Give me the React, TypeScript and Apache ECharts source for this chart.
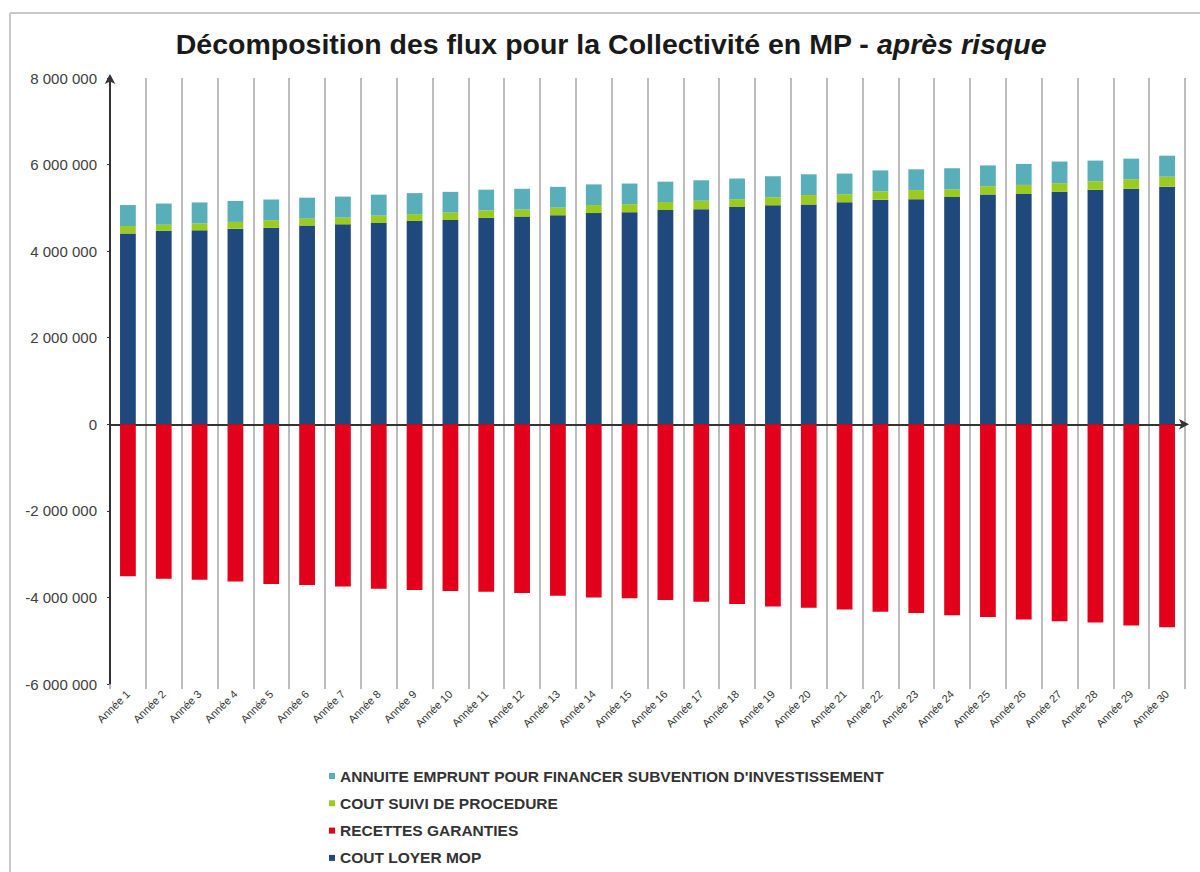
import React, { useEffect, useRef } from "react";
import * as echarts from "echarts";

const years: string[] = Array.from({ length: 30 }, (_, i) => `Année ${i + 1}`);

const coutLoyerMop: number[] = [
  4410000, 4470000, 4480000, 4520000, 4540000, 4590000, 4620000, 4650000, 4700000, 4720000,
  4770000, 4800000, 4830000, 4880000, 4900000, 4950000, 4970000, 5020000, 5060000, 5080000,
  5130000, 5190000, 5200000, 5250000, 5310000, 5320000, 5370000, 5420000, 5440000, 5490000,
];
const coutSuiviProcedure: number[] = [
  170000, 140000, 160000, 155000, 175000, 160000, 155000, 170000, 155000, 170000,
  170000, 160000, 175000, 185000, 185000, 185000, 195000, 180000, 185000, 215000,
  185000, 190000, 210000, 180000, 190000, 210000, 200000, 195000, 220000, 230000,
];
const annuiteEmprunt: number[] = [
  485000, 490000, 485000, 485000, 478000, 485000, 485000, 485000, 485000, 480000,
  480000, 480000, 480000, 477000, 477000, 470000, 472000, 478000, 485000, 480000,
  477000, 485000, 480000, 485000, 480000, 485000, 500000, 477000, 477000, 485000,
];
const recettesGaranties: number[] = [
  -3510000, -3570000, -3590000, -3630000, -3690000, -3710000, -3750000, -3800000, -3830000, -3850000,
  -3870000, -3900000, -3960000, -4000000, -4020000, -4060000, -4100000, -4150000, -4210000, -4240000,
  -4280000, -4330000, -4360000, -4410000, -4450000, -4510000, -4550000, -4580000, -4650000, -4690000,
];

const legendOrder: string[] = [
  "ANNUITE EMPRUNT POUR FINANCER SUBVENTION D'INVESTISSEMENT",
  "COUT SUIVI DE PROCEDURE",
  "RECETTES GARANTIES",
  "COUT LOYER MOP",
];

const FONT = "'Liberation Sans', Arial, sans-serif";

const fmt = (v: number) => {
  const s = Math.abs(v).toFixed(0).replace(/\B(?=(\d{3})+(?!\d))/g, " ");
  return (v < 0 ? "-" : "") + s;
};

export default function App() {
  const ref = useRef<HTMLDivElement>(null);
  useEffect(() => {
    document.body.style.margin = "0";
    const chart = echarts.init(ref.current!, null, { renderer: "svg" });
    const barW = "44%";
    chart.setOption({
      animation: false,
      backgroundColor: "#ffffff",
      graphic: [
        { type: "line", shape: { x1: 10, y1: 13, x2: 10, y2: 872 }, style: { stroke: "#c8c8c8", lineWidth: 2 } },
        { type: "line", shape: { x1: 10, y1: 13, x2: 1200, y2: 13 }, style: { stroke: "#c8c8c8", lineWidth: 2 } },
        {
          type: "text",
          x: 611,
          y: 44,
          style: {
            text: "{b|Décomposition des flux pour la Collectivité en MP - }{i|après risque}",
            align: "center",
            verticalAlign: "middle",
            rich: {
              b: { fontFamily: FONT, fontSize: 28.5, fontWeight: "bold", fill: "#1a1a1a" },
              i: { fontFamily: FONT, fontSize: 28.5, fontWeight: "bold", fontStyle: "italic", fill: "#1a1a1a" },
            },
          },
        },
      ],
      legend: {
        orient: "vertical",
        left: 329,
        top: 768,
        height: 120,
        padding: 0,
        itemWidth: 6,
        itemHeight: 6,
        itemGap: 11.3,
        icon: "rect",
        textStyle: { fontFamily: FONT, fontSize: 15.5, fontWeight: "bold", color: "#333333" },
        data: legendOrder,
      },
      grid: { left: 110, right: 15, top: 78, bottom: 188 },
      xAxis: [
        {
          type: "category",
          data: years,
          position: "bottom",
          axisLine: { show: false, onZero: false },
          axisTick: { show: true, length: 5, lineStyle: { color: "#a6a6a6", width: 1.5 } },
          splitLine: { show: true, interval: 0, lineStyle: { color: "#a6a6a6", width: 1.5 } },
          axisLabel: {
            interval: 0,
            rotate: 45,
            margin: 8,
            fontFamily: FONT,
            fontSize: 11,
            color: "#333333",
          },
        },
        {
          type: "category",
          data: years,
          position: "bottom",
          axisLine: {
            show: true,
            onZero: true,
            symbol: ["none", "arrow"],
            symbolSize: [8, 10],
            symbolOffset: [0, 4],
            lineStyle: { color: "#333333", width: 2 },
          },
          axisTick: { show: false },
          axisLabel: { show: false },
          splitLine: { show: false },
        },
      ],
      yAxis: {
        type: "value",
        min: -6000000,
        max: 8000000,
        interval: 2000000,
        splitLine: { show: false },
        axisLine: {
          show: true,
          symbol: ["none", "arrow"],
          symbolSize: [8, 10],
          symbolOffset: [0, 4],
          lineStyle: { color: "#333333", width: 2 },
        },
        axisTick: { show: true, length: 3, lineStyle: { color: "#333333" } },
        axisLabel: { formatter: fmt, fontFamily: FONT, fontSize: 15, color: "#404040", margin: 13 },
      },
      series: [
        {
          name: "COUT LOYER MOP",
          type: "bar",
          stack: "a",
          barWidth: barW,
          data: coutLoyerMop,
          itemStyle: { color: "#1f497d" },
        },
        {
          name: "COUT SUIVI DE PROCEDURE",
          type: "bar",
          stack: "a",
          barWidth: barW,
          data: coutSuiviProcedure,
          itemStyle: { color: "#9acb1e" },
        },
        {
          name: "ANNUITE EMPRUNT POUR FINANCER SUBVENTION D'INVESTISSEMENT",
          type: "bar",
          stack: "a",
          barWidth: barW,
          data: annuiteEmprunt,
          itemStyle: { color: "#58aeb9" },
        },
        {
          name: "RECETTES GARANTIES",
          type: "bar",
          stack: "a",
          barWidth: barW,
          data: recettesGaranties,
          itemStyle: { color: "#e2001a" },
        },
      ],
    });
    return () => chart.dispose();
  }, []);
  return <div ref={ref} style={{ width: 1200, height: 872 }} />;
}
